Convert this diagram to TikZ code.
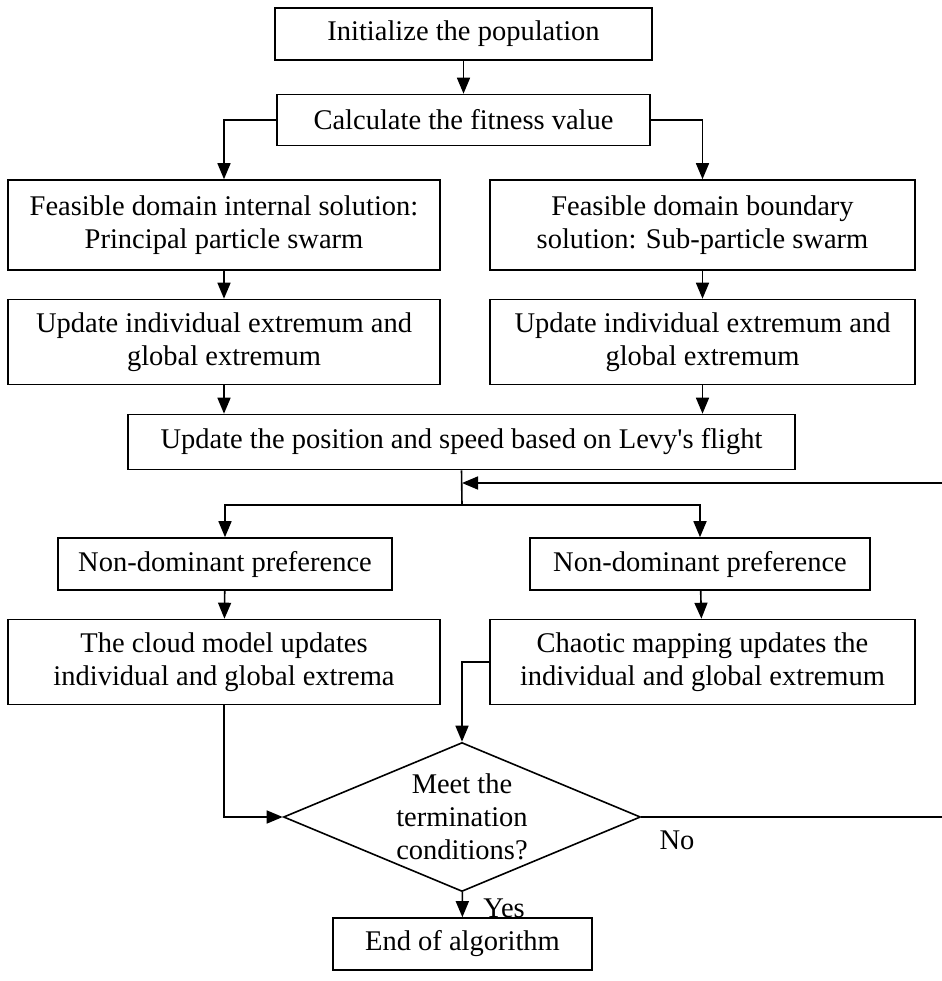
\documentclass[tikz,border=0pt]{standalone}
\usepackage{fontspec}
\setmainfont{Liberation Serif}
\usetikzlibrary{shapes.geometric,arrows.meta,positioning,calc}
\tikzset{
    txt/.style={font=\fontsize{28.5}{33}\selectfont},
    box/.style={txt, draw, line width=1.6pt, align=center, inner sep=0pt},
    decision/.style={txt, draw, diamond, aspect=2.4, line width=1.6pt, align=center, inner sep=-25pt,
        minimum width=357pt, minimum height=149pt},
    link/.style={line width=1.6pt},
    flow/.style={link, -{Triangle[length=16pt,width=13pt]}}
}

\begin{document}
\begin{tikzpicture}[x=1pt,y=-1pt]
\useasboundingbox (0,0) rectangle (941,981);

% top
\node[box, minimum width=377pt, minimum height=52pt] (init) at (463.5,34) {Initialize the population};
\node[box, minimum width=373pt, minimum height=51pt] (calc) at (463.5,120) {Calculate the fitness value};

% two swarms
\node[box, minimum width=432pt, minimum height=90pt] (feasL) at (224,225) {Feasible domain internal solution:\\Principal particle swarm};
\node[box, minimum width=425pt, minimum height=90pt] (feasR) at (702.5,225) {Feasible domain boundary\\solution: Sub-particle swarm};
\node[box, minimum width=432pt, minimum height=85pt] (updL) at (224,342) {Update individual extremum and\\global extremum};
\node[box, minimum width=425pt, minimum height=85pt] (updR) at (702.5,342) {Update individual extremum and\\global extremum};

% levy
\node[box, minimum width=667pt, minimum height=55pt] (levy) at (461.5,442) {Update the position and speed based on Levy\textquotesingle s flight};

% preference
\node[box, minimum width=334pt, minimum height=52pt] (ndL) at (225,564) {Non-dominant preference};
\node[box, minimum width=340pt, minimum height=52pt] (ndR) at (700,564) {Non-dominant preference};
\node[box, minimum width=432pt, minimum height=85pt] (cloud) at (224,662) {The cloud model updates\\individual and global extrema};
\node[box, minimum width=425pt, minimum height=85pt] (chaos) at (702.5,662) {Chaotic mapping updates the\\individual and global extremum};

% end
\node[decision] (cond) at (462,817) {Meet the\\termination\\conditions?};
\node[box, minimum width=259pt, minimum height=52pt] (stop) at (462.5,944) {End of algorithm};
\node[txt] (nolab) at (677,840) {No};
\node[txt] (yeslab) at (504,908) {Yes};

\coordinate (split) at (462,505);
\coordinate (fb) at (462,483);
\coordinate (edge) at (945,483);

\draw[flow] (init) -- (calc);
\draw[flow] (calc.west) -| (feasL.north);
\draw[flow] (calc.east) -| (feasR.north);
\draw[flow] (feasL) -- (updL);
\draw[flow] (feasR) -- (updR);
\draw[flow] (updL.south) -- (levy.north -| updL.south);
\draw[flow] (updR.south) -- (levy.north -| updR.south);
\draw[link] (levy.south) -- (split);
\draw[flow] (split) -| (ndL.north);
\draw[flow] (split) -| (ndR.north);
\draw[flow] (ndL) -- (cloud);
\draw[flow] (ndR) -- (chaos);
\draw[flow] (chaos.west) -| (cond.north);
\draw[flow] (cloud.south) |- (cond.west);
\draw[flow] (cond) -- (stop);
\draw[flow] (cond.east) -| (edge) -- (fb);
\end{tikzpicture}
\end{document}
